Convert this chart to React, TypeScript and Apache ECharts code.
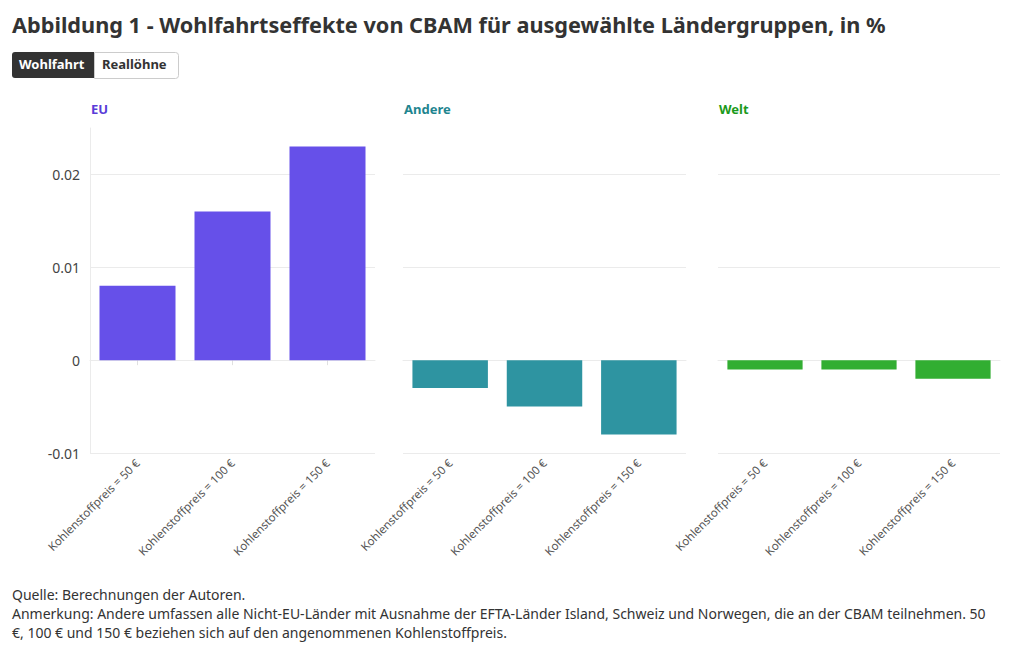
import React, { useEffect, useRef } from "react";
import * as echarts from "echarts";

const categories = ["Kohlenstoffpreis = 50 €", "Kohlenstoffpreis = 100 €", "Kohlenstoffpreis = 150 €"];
const panelNames = ["EU", "Andere", "Welt"];
const euValues = [0.008, 0.016, 0.023];
const andereValues = [-0.003, -0.005, -0.008];
const weltValues = [-0.001, -0.001, -0.002];
const panelValues = [euValues, andereValues, weltValues];
const barColors = ["#6650e9", "#2e94a1", "#32ae32"];
const titleColors = ["#5a3cd8", "#1e858f", "#1b9a1b"];
const yMin = -0.01;
const yMax = 0.025;
const yInterval = 0.01;

const titleText = "Abbildung 1 - Wohlfahrtseffekte von CBAM für ausgewählte Ländergruppen, in %";
const noteText =
  "Quelle: Berechnungen der Autoren.\nAnmerkung: Andere umfassen alle Nicht-EU-Länder mit Ausnahme der EFTA-Länder Island, Schweiz und Norwegen, die an der CBAM teilnehmen. 50\n€, 100 € und 150 € beziehen sich auf den angenommenen Kohlenstoffpreis.";

const FONT = "'Noto Sans', sans-serif";

export default function App() {
  const ref = useRef<HTMLDivElement>(null);
  useEffect(() => {
    if (!ref.current) return;
    const chart = echarts.init(ref.current, undefined, { renderer: "svg" });
    const grids = [
      { left: 90, width: 285 },
      { left: 403, width: 283 },
      { left: 718, width: 282 },
    ].map((g) => ({ ...g, top: 128, bottom: 197 }));

    const option: any = {
      animation: false,
      backgroundColor: "#ffffff",
      textStyle: { fontFamily: FONT },
      title: [
        {
          text: titleText,
          left: 7,
          top: 8,
          textStyle: { fontSize: 21.7, fontWeight: "bold", color: "#333333", fontFamily: FONT },
        },
        ...panelNames.map((n, i) => ({
          text: n,
          left: grids[i].left + 1 - 5,
          top: 97,
          textStyle: { fontSize: 13, fontWeight: "bold", color: titleColors[i], fontFamily: FONT },
        })),
        {
          text: noteText,
          left: 7,
          top: 580,
          textStyle: { fontSize: 14, fontWeight: "normal", color: "#333333", lineHeight: 19, fontFamily: FONT },
        },
      ],
      graphic: [
        { type: "rect", left: 12, top: 52, shape: { width: 82, height: 26, r: [3, 0, 0, 3] }, style: { fill: "#333333" } },
        {
          type: "rect",
          left: 94,
          top: 52,
          shape: { width: 84, height: 26, r: [0, 3, 3, 0] },
          style: { fill: "#ffffff", stroke: "#cccccc", lineWidth: 1 },
        },
        {
          type: "text",
          left: 19,
          top: 57,
          style: { text: "Wohlfahrt", fill: "#ffffff", font: `bold 13px ${FONT}` },
        },
        {
          type: "text",
          left: 102,
          top: 57,
          style: { text: "Reallöhne", fill: "#333333", font: `bold 13px ${FONT}` },
        },
      ],
      grid: grids,
      xAxis: grids.map((_, i) => ({
        type: "category",
        gridIndex: i,
        data: categories,
        axisLine: { show: true, lineStyle: { color: "#ebebeb" } },
        axisTick: { show: true, alignWithLabel: true, length: 5, lineStyle: { color: "#e0e0e0" } },
        axisLabel: { rotate: 45, fontSize: 11.5, color: "#555555", margin: 8, interval: 0, fontFamily: FONT },
      })),
      yAxis: grids.map((_, i) => ({
        type: "value",
        gridIndex: i,
        min: yMin,
        max: yMax,
        interval: yInterval,
        axisLine: { show: i === 0, lineStyle: { color: "#ebebeb" } },
        axisTick: { show: false },
        axisLabel: { show: i === 0, fontSize: 14, color: "#444444", margin: 10, showMaxLabel: false, fontFamily: FONT },
        splitLine: { show: true, showMaxLine: false, lineStyle: { color: "#ebebeb" } },
      })),
      series: panelValues.map((vals, i) => ({
        type: "bar",
        xAxisIndex: i,
        yAxisIndex: i,
        data: vals,
        barCategoryGap: "20%",
        itemStyle: { color: barColors[i] },
      })),
    };
    chart.setOption(option);
    return () => chart.dispose();
  }, []);
  return (
    <div style={{ position: "fixed", left: 0, top: 0, width: 1020, height: 650 }}>
      <div ref={ref} style={{ width: 1020, height: 650 }} />
    </div>
  );
}
